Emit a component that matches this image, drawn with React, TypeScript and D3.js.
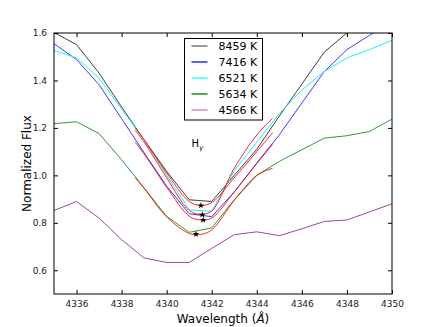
import React, { useEffect, useRef } from 'react';
import * as d3 from 'd3';

// wavelength grid of the spectra (Angstrom)
const wavelengths = [4335, 4336, 4337, 4338, 4339, 4340, 4341, 4342, 4343, 4344, 4345, 4346, 4347, 4348, 4349, 4350];

// normalized flux per effective temperature
const flux8459 = [1.602, 1.551, 1.431, 1.288, 1.15, 1.017, 0.897, 0.89, 1.0, 1.11, 1.25, 1.385, 1.52, 1.6, 1.66, 1.72];
const flux7416 = [1.555, 1.488, 1.382, 1.239, 1.095, 0.955, 0.838, 0.826, 0.93, 1.052, 1.171, 1.305, 1.438, 1.53, 1.59, 1.65];
const flux6521 = [1.527, 1.495, 1.41, 1.28, 1.149, 1.0, 0.855, 0.848, 1.02, 1.14, 1.26, 1.36, 1.438, 1.495, 1.53, 1.569];
const flux5634 = [1.218, 1.226, 1.176, 1.066, 0.947, 0.827, 0.76, 0.778, 0.897, 1.0, 1.059, 1.108, 1.157, 1.167, 1.185, 1.237];
const flux4566 = [0.852, 0.89, 0.82, 0.729, 0.652, 0.633, 0.633, 0.692, 0.75, 0.762, 0.746, 0.775, 0.806, 0.812, 0.846, 0.88];

const labels = ['8459 K', '7416 K', '6521 K', '5634 K', '4566 K'];
const lineColors = ['#404040', '#3a3aff', '#20f0f0', '#2f9a2f', '#a640a6'];
const legendColors = ['#9a9a9a', '#5f5fff', '#66ffff', '#5aaa5a', '#d8a8d8'];

// line-core fits (red) and their minima (stars)
const fitWave = [4338.6, 4339, 4340, 4341, 4341.5, 4342, 4343, 4344, 4344.7];
const fit8459 = [1.2, 1.15, 1.01, 0.89, 0.873, 0.885, 0.99, 1.1, 1.18];
const fit6521 = [1.19, 1.14, 0.99, 0.852, 0.836, 0.85, 1.03, 1.17, 1.24];
const fit7416 = [1.14, 1.09, 0.95, 0.828, 0.812, 0.82, 0.93, 1.05, 1.13];
const fit5634 = [0.99, 0.945, 0.825, 0.755, 0.751, 0.77, 0.895, 1.0, 1.03];
const minWave = [4341.52, 4341.58, 4341.62, 4341.3];
const minFlux = [0.873, 0.834, 0.812, 0.752];

const xTicks = [4336, 4338, 4340, 4342, 4344, 4346, 4348, 4350];
const yTicks = [0.6, 0.8, 1.0, 1.2, 1.4, 1.6];

const App = () => {
  const svgRef = useRef(null);
  const width = 436;
  const height = 327;

  useEffect(() => {
    const svg = d3.select(svgRef.current);
    svg.selectAll('*').remove();

    const margin = { top: 33, right: 44, bottom: 33, left: 54 };
    const innerWidth = width - margin.left - margin.right;
    const innerHeight = height - margin.top - margin.bottom;

    const x = d3.scaleLinear().domain([4335, 4350]).range([0, innerWidth]);
    const y = d3.scaleLinear().domain([0.5, 1.6]).range([innerHeight, 0]);

    svg.append('defs').append('clipPath').attr('id', 'plot-clip')
      .append('rect').attr('width', innerWidth).attr('height', innerHeight);

    const g = svg.append('g').attr('transform', `translate(${margin.left},${margin.top})`);
    const plot = g.append('g').attr('clip-path', 'url(#plot-clip)');

    const line = d3.line<number>()
      .x((d, i) => x(wavelengths[i]))
      .y(d => y(d));

    const series = [flux8459, flux7416, flux6521, flux5634, flux4566];
    series.forEach((s, i) => {
      plot.append('path')
        .datum(s)
        .attr('d', line)
        .attr('fill', 'none')
        .attr('stroke', lineColors[i])
        .attr('stroke-width', 1);
    });

    // red fits
    const fitLine = d3.line<number>()
      .x((d, i) => x(fitWave[i]))
      .y(d => y(d))
      .curve(d3.curveCatmullRom);
    [fit8459, fit6521, fit7416, fit5634].forEach(f => {
      plot.append('path')
        .datum(f)
        .attr('d', fitLine)
        .attr('fill', 'none')
        .attr('stroke', '#ff0000')
        .attr('stroke-opacity', 0.85)
        .attr('stroke-width', 1);
    });

    // minima stars
    const star = d3.symbol().type(d3.symbolStar).size(14);
    minWave.forEach((w, i) => {
      plot.append('path')
        .attr('d', star)
        .attr('transform', `translate(${x(w)},${y(minFlux[i])})`)
        .attr('fill', '#000');
    });

    // axes with inward ticks
    const tickLen = 4;
    const axisBottom = g.append('g').attr('transform', `translate(0,${innerHeight})`)
      .call(d3.axisBottom(x).tickValues(xTicks).tickSizeInner(-tickLen).tickSizeOuter(0).tickPadding(7).tickFormat(d3.format('d')));
    const axisTop = g.append('g')
      .call(d3.axisTop(x).tickValues(xTicks).tickSizeInner(-tickLen).tickSizeOuter(0).tickFormat(() => ''));
    const axisLeft = g.append('g')
      .call(d3.axisLeft(y).tickValues(yTicks).tickSizeInner(-tickLen).tickSizeOuter(0).tickPadding(7).tickFormat(d3.format('.1f')));
    const axisRight = g.append('g').attr('transform', `translate(${innerWidth},0)`)
      .call(d3.axisRight(y).tickValues(yTicks).tickSizeInner(-tickLen).tickSizeOuter(0).tickFormat(() => ''));

    [axisBottom, axisTop, axisLeft, axisRight].forEach(a => {
      a.select('.domain').remove();
      a.selectAll('line').attr('stroke', '#000');
      a.selectAll('text')
        .style('font-family', 'DejaVu Sans')
        .style('font-size', '9px')
        .attr('fill', '#222');
    });

    // frame
    g.append('rect')
      .attr('width', innerWidth)
      .attr('height', innerHeight)
      .attr('fill', 'none')
      .attr('stroke', '#000')
      .attr('stroke-width', 1);

    // H gamma label
    const hg = g.append('text')
      .attr('x', x(4341.1))
      .attr('y', y(1.12))
      .style('font-family', 'DejaVu Sans')
      .style('font-size', '10px')
      .attr('fill', '#000');
    hg.append('tspan').text('H');
    hg.append('tspan').attr('dy', 3).style('font-size', '7px').style('font-style', 'italic').text('γ');

    // legend
    const legend = g.append('g').attr('transform', `translate(${184.5 - margin.left},${38.5 - margin.top})`);
    legend.append('rect')
      .attr('width', 78)
      .attr('height', 81.5)
      .attr('fill', '#fff')
      .attr('stroke', '#000')
      .attr('stroke-width', 1);
    labels.forEach((lab, i) => {
      const ly = 7.5 + i * 16;
      legend.append('line')
        .attr('x1', 7).attr('x2', 23)
        .attr('y1', ly).attr('y2', ly)
        .attr('stroke', legendColors[i])
        .attr('stroke-width', 2);
      legend.append('text')
        .attr('x', 34)
        .attr('y', ly + 4)
        .style('font-family', 'DejaVu Sans')
        .style('font-size', '11px')
        .attr('fill', '#000')
        .text(lab);
    });

    // axis titles
    const xl = svg.append('text')
      .attr('x', margin.left + innerWidth / 2)
      .attr('y', 323)
      .attr('text-anchor', 'middle')
      .style('font-family', 'DejaVu Sans')
      .style('font-size', '12px')
      .attr('fill', '#000');
    xl.append('tspan').text('Wavelength (');
    xl.append('tspan').style('font-style', 'italic').text('Å');
    xl.append('tspan').text(')');

    svg.append('text')
      .attr('transform', `translate(31,${margin.top + innerHeight / 2}) rotate(-90)`)
      .attr('text-anchor', 'middle')
      .style('font-family', 'DejaVu Sans')
      .style('font-size', '12px')
      .attr('fill', '#000')
      .text('Normalized Flux');
  }, []);

  return (
    <svg
      ref={svgRef}
      width={width}
      height={height}
      style={{ position: 'absolute', left: 0, top: 0, background: '#fff' }}
    ></svg>
  );
};

export default App;
